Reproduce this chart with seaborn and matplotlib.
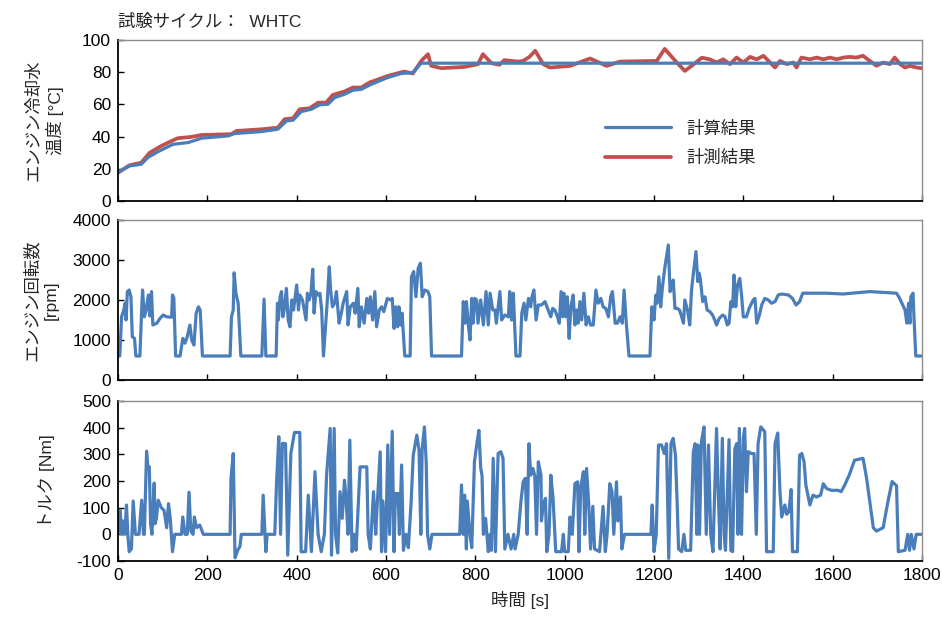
import numpy as np
import pandas as pd
import matplotlib
matplotlib.use("Agg")
import matplotlib.pyplot as plt
import seaborn as sns

# ---------------- data ----------------
title_text = "試験サイクル：  WHTC"
legend_labels = ["計算結果", "計測結果"]

temp_calc_t = [0, 11, 26, 52, 67, 90, 123, 157, 187, 246, 261, 321, 358, 377, 392, 410,
               433, 451, 470, 485, 507, 526, 545, 567, 604, 634, 660, 679, 1800]
temp_calc_v = [17.6, 19.7, 21.8, 22.8, 27.0, 30.7, 35.2, 36.3, 39.0, 40.4, 41.9, 43.1, 44.6,
               49.7, 50.2, 55.5, 57.0, 59.7, 60.1, 64.2, 66.3, 68.8, 69.4, 72.5, 76.7, 79.2,
               79.8, 85.6, 85.6]

temp_meas_t = [0, 26, 52, 71, 97, 123, 134, 164, 187, 254, 265, 325, 358, 373, 392, 407,
               429, 448, 466, 481, 507, 526, 545, 563, 604, 641, 660, 679, 694, 701, 724,
               776, 806, 817, 836, 854, 865, 895, 907, 921, 934, 952, 967, 1012, 1057, 1094,
               1124, 1206, 1224, 1251, 1269, 1284, 1307, 1325, 1340, 1355, 1370, 1385, 1400,
               1415, 1430, 1445, 1460, 1471, 1482, 1497, 1512, 1519, 1530, 1549, 1564, 1579,
               1594, 1609, 1624, 1638, 1653, 1668, 1683, 1698, 1713, 1728, 1739, 1751, 1762,
               1773, 1788, 1800]
temp_meas_v = [17.6, 22.2, 23.8, 30.0, 34.2, 37.7, 39.0, 39.8, 41.0, 41.5, 43.5, 44.6, 45.6,
               50.8, 51.4, 57.0, 57.6, 61.1, 61.1, 65.9, 68.0, 70.5, 70.5, 73.6, 77.7, 80.4,
               79.2, 87.0, 91.2, 84.0, 82.5, 83.3, 85.0, 91.2, 85.6, 84.6, 87.5, 86.6, 87.0,
               89.5, 93.3, 85.0, 82.9, 83.9, 88.5, 83.9, 86.6, 87.0, 94.5, 86.0, 80.8, 83.9,
               89.0, 88.0, 86.0, 88.0, 85.0, 89.1, 86.0, 89.5, 88.0, 90.2, 86.0, 82.9, 87.0,
               85.0, 86.0, 82.9, 89.1, 88.0, 89.1, 88.0, 89.1, 88.0, 89.1, 89.5, 89.1, 90.2,
               87.0, 84.0, 86.0, 85.0, 89.1, 85.0, 82.9, 83.9, 82.9, 82.5]

rpm_t = [0, 4, 8, 13, 16, 18, 21, 25, 29, 32, 37, 40, 49, 53, 55, 59, 63, 68, 71, 75, 78, 87,
         94, 101, 109, 120, 122, 125, 129, 139, 145, 150, 155, 161, 165, 170, 175, 180, 184,
         189, 251, 254, 258, 260, 264, 269, 275, 322, 327, 331, 354, 357, 359, 363, 366, 369,
         372, 377, 381, 385, 389, 393, 400, 404, 407, 413, 417, 421, 424, 428, 432, 436, 439,
         443, 448, 452, 456, 460, 463, 468, 473, 476, 480, 485, 489, 495, 500, 504, 512, 515,
         520, 527, 531, 537, 540, 545, 551, 557, 561, 565, 570, 575, 579, 585, 590, 595, 603,
         610, 614, 618, 622, 626, 629, 633, 636, 642, 654, 657, 662, 667, 672, 677, 681, 687,
         694, 698, 702, 769, 773, 777, 780, 784, 788, 792, 795, 799, 803, 806, 812, 818, 824,
         829, 833, 839, 844, 847, 855, 859, 866, 874, 877, 881, 885, 891, 900, 904, 909, 913,
         919, 924, 926, 931, 936, 941, 948, 956, 963, 969, 973, 978, 984, 988, 992, 996, 998,
         1003, 1006, 1010, 1014, 1019, 1023, 1027, 1030, 1034, 1038, 1043, 1048, 1053, 1058,
         1064, 1070, 1075, 1081, 1086, 1092, 1098, 1103, 1107, 1113, 1118, 1124, 1129, 1133,
         1138, 1144, 1191, 1195, 1200, 1204, 1207, 1211, 1215, 1219, 1224, 1232, 1236, 1240,
         1243, 1247, 1252, 1257, 1262, 1266, 1269, 1275, 1280, 1284, 1289, 1294, 1298, 1301,
         1304, 1309, 1314, 1319, 1325, 1331, 1336, 1340, 1346, 1354, 1359, 1364, 1368, 1372,
         1376, 1379, 1383, 1387, 1392, 1396, 1400, 1407, 1413, 1422, 1426, 1430, 1436, 1441,
         1448, 1456, 1463, 1471, 1478, 1486, 1501, 1510, 1518, 1526, 1533, 1586, 1623, 1683,
         1743, 1750, 1762, 1766, 1770, 1773, 1775, 1780, 1782, 1786, 1800]
rpm_v = [600, 600, 1580, 1750, 1920, 1500, 2210, 2250, 2080, 1080, 1040, 600, 600, 1750, 2250,
         1580, 1750, 2125, 1600, 2210, 1375, 1420, 1540, 1625, 1580, 1570, 2125, 2050, 600, 600,
         1040, 920, 1080, 1375, 1000, 875, 1670, 1830, 1750, 600, 600, 1580, 1750, 2680, 2170,
         1920, 600, 600, 2020, 600, 600, 1920, 1500, 2080, 2210, 1580, 1750, 2290, 1500, 1330,
         2000, 1750, 2375, 1750, 2125, 2000, 1750, 1500, 2170, 2000, 2170, 2770, 1670, 2210,
         2125, 2170, 1750, 600, 1080, 1875, 2830, 2250, 1830, 1920, 2210, 1420, 1670, 1920,
         2210, 1375, 1830, 1920, 1670, 2290, 1330, 1830, 1420, 2040, 1670, 2080, 1500, 2210,
         1330, 1750, 1830, 1710, 2040, 2000, 2040, 1290, 1830, 1330, 1830, 1375, 1670, 600,
         600, 2580, 2710, 2080, 2790, 2920, 2080, 2250, 2210, 2080, 600, 600, 1960, 1420, 1960,
         1420, 1000, 2040, 1420, 2040, 2000, 1420, 2000, 1375, 2210, 1375, 2170, 1750, 1750,
         1420, 2210, 1500, 1625, 1580, 2210, 1500, 2170, 600, 600, 1670, 1920, 1500, 2040,
         1830, 2040, 2250, 1500, 1875, 1875, 1960, 1750, 1580, 1790, 1750, 1580, 1420, 2210,
         1580, 2170, 1580, 2080, 1040, 1830, 2125, 1375, 1750, 1420, 1960, 1500, 2170, 1375,
         1580, 1375, 1375, 2250, 1920, 2040, 1830, 1790, 1580, 2080, 2210, 1420, 1420, 1580,
         1420, 2250, 1420, 600, 600, 1830, 1500, 2125, 1920, 2580, 1830, 2330, 2790, 3375,
         2210, 2420, 2500, 1790, 1790, 1750, 1580, 1420, 2000, 1750, 1375, 2250, 2750, 3210,
         2460, 2670, 2500, 1960, 2080, 1750, 1710, 1625, 1500, 1375, 1540, 1625, 1580, 1375,
         1420, 1960, 1830, 2625, 1830, 2370, 2540, 2125, 1580, 1580, 1790, 2000, 2040, 1420,
         1625, 1875, 2040, 2000, 1920, 1960, 2125, 2150, 2125, 2040, 1875, 1960, 2170, 2170,
         2150, 2210, 2170, 2040, 1750, 1420, 1920, 1420, 2080, 2170, 1580, 600, 600]

torque_t = [0, 5, 8, 11, 15, 19, 22, 25, 30, 34, 39, 47, 53, 57, 59, 64, 67, 70, 73, 76, 81,
            83, 86, 90, 97, 103, 109, 113, 117, 122, 127, 142, 145, 150, 155, 159, 163, 168,
            171, 176, 183, 191, 251, 253, 258, 262, 268, 273, 276, 322, 325, 331, 334, 351,
            355, 360, 364, 368, 375, 380, 387, 395, 407, 410, 420, 426, 433, 441, 448, 455,
            462, 467, 475, 478, 484, 487, 492, 497, 502, 507, 510, 515, 519, 524, 529, 533,
            542, 557, 560, 565, 572, 577, 580, 587, 590, 593, 599, 604, 608, 614, 618, 621,
            627, 630, 635, 639, 645, 650, 656, 661, 669, 674, 678, 681, 686, 690, 693, 698,
            703, 765, 769, 773, 776, 780, 782, 788, 792, 798, 803, 808, 812, 815, 818, 823,
            829, 833, 836, 840, 845, 851, 857, 862, 866, 873, 880, 886, 889, 896, 902, 907,
            912, 916, 920, 924, 929, 933, 937, 941, 947, 948, 952, 957, 960, 965, 969, 974,
            980, 993, 997, 1000, 1008, 1012, 1017, 1023, 1029, 1032, 1036, 1042, 1045, 1049,
            1054, 1058, 1063, 1067, 1078, 1086, 1091, 1095, 1101, 1106, 1110, 1116, 1119,
            1125, 1128, 1134, 1193, 1196, 1200, 1205, 1210, 1217, 1223, 1228, 1233, 1238,
            1243, 1248, 1252, 1255, 1262, 1267, 1271, 1282, 1288, 1292, 1296, 1298, 1302,
            1306, 1312, 1317, 1322, 1327, 1332, 1340, 1344, 1348, 1353, 1357, 1360, 1368,
            1372, 1376, 1381, 1385, 1388, 1391, 1396, 1400, 1403, 1407, 1411, 1418, 1424,
            1429, 1433, 1439, 1448, 1452, 1467, 1471, 1477, 1482, 1486, 1493, 1497, 1502,
            1507, 1510, 1521, 1526, 1531, 1536, 1540, 1549, 1556, 1564, 1573, 1579, 1586,
            1597, 1612, 1619, 1627, 1637, 1649, 1668, 1676, 1684, 1691, 1698, 1713, 1724,
            1733, 1743, 1747, 1762, 1768, 1772, 1776, 1782, 1787, 1800]
torque_v = [0, 90, 0, 50, 0, 110, 0, -65, -55, 125, 0, 0, 128, 0, 0, 312, 250, 253, 40, 0, 192,
            40, 60, 128, 100, 90, 25, 115, 60, -65, 0, 0, 65, 0, 0, 158, 12, 0, 65, 25, 35, 0,
            0, 210, 303, -88, -60, -45, 0, 0, 147, -65, 0, 0, 197, 366, 0, 341, 340, -78, 303,
            382, 382, -65, -65, 147, -65, 235, 0, -65, 0, 222, 397, -78, 397, 0, -70, 160, 60,
            203, 147, 0, 353, -65, 0, -60, 253, 253, 0, -55, 160, 0, 100, 309, -65, 125, -65,
            335, 0, 386, -65, 153, 153, 0, 260, -60, 0, -50, 113, 297, 372, 315, 0, 320, 403,
            270, 0, -55, 0, 0, 185, 0, 147, -55, 125, 0, -50, 272, 335, 390, 250, 220, 0, 60,
            -65, 0, -60, 285, -65, 303, 310, 285, -55, 0, -55, 0, -55, 0, 122, 197, 210, 0,
            340, 222, 247, 220, 0, 272, 222, 50, 110, 135, -65, 0, 222, 135, -65, -65, 0, -65,
            -65, 65, 0, 190, 197, -65, 178, 235, 0, 247, 110, -55, 105, -55, -65, 105, -65, 0,
            190, 160, 0, 197, 50, 140, -55, 0, 0, 110, -65, 0, 335, 335, 303, 340, -90, 340,
            360, 297, 110, -55, -65, 0, -60, -60, 310, 340, 0, 335, 0, 345, 403, 0, 335, 0,
            -65, 397, 150, -55, 360, 0, -60, 355, -60, -65, 320, 340, 0, 397, 0, 360, 397, 160,
            310, 303, 303, 0, 340, 403, 385, -65, -65, 340, 380, 160, 65, 110, 75, 85, 168,
            -65, -65, 297, 303, 272, 185, 110, 147, 140, 147, 190, 172, 165, 165, 160, 185,
            222, 278, 285, 210, 110, 25, 12, 25, 125, 198, 182, -65, -60, 0, -60, 0, -55, 0, 0]

x_ticks = list(range(0, 1801, 200))
temp_ticks = list(range(0, 101, 20))
rpm_ticks = list(range(0, 4001, 1000))
torque_ticks = list(range(-100, 501, 100))

# ---------------- styling ----------------
sns.set_theme(style="white")
plt.rcParams["font.family"] = ["Liberation Sans", "Noto Sans CJK JP", "DejaVu Sans"]
plt.rcParams["axes.unicode_minus"] = False

BLUE = "#4a7ebb"
RED = "#c0504d"
FS = 12.5

fig = plt.figure(figsize=(9.42, 6.19), dpi=100)
W, H = 942, 619
def box(l, t, r, b):
    return [l / W, 1 - b / H, (r - l) / W, (b - t) / H]

ax1 = fig.add_axes(box(118, 40, 922, 201))
ax2 = fig.add_axes(box(118, 220, 922, 380))
ax3 = fig.add_axes(box(118, 401, 922, 561))

df_calc = pd.DataFrame({"t": temp_calc_t, "v": temp_calc_v})
df_meas = pd.DataFrame({"t": temp_meas_t, "v": temp_meas_v})
df_rpm = pd.DataFrame({"t": rpm_t, "v": rpm_v})
df_trq = pd.DataFrame({"t": torque_t, "v": torque_v})

lw = 2.3
sns.lineplot(data=df_meas, x="t", y="v", ax=ax1, color=RED, lw=lw + 0.4,
             estimator=None, sort=False, label=legend_labels[1])
sns.lineplot(data=df_calc, x="t", y="v", ax=ax1, color=BLUE, lw=lw,
             estimator=None, sort=False, label=legend_labels[0])
sns.lineplot(data=df_rpm, x="t", y="v", ax=ax2, color=BLUE, lw=lw,
             estimator=None, sort=False)
sns.lineplot(data=df_trq, x="t", y="v", ax=ax3, color=BLUE, lw=lw,
             estimator=None, sort=False)

for ax, ticks in ((ax1, temp_ticks), (ax2, rpm_ticks), (ax3, torque_ticks)):
    ax.set_xlim(0, 1800)
    ax.set_ylim(ticks[0], ticks[-1])
    ax.set_xticks(x_ticks)
    ax.set_yticks(ticks)
    ax.tick_params(direction="in", length=4, width=1, labelsize=FS,
                   bottom=True, left=True, top=False, right=False, pad=5, colors="black")
    for s in ("left", "bottom"):
        ax.spines[s].set_color("black")
        ax.spines[s].set_linewidth(1.3)
    for s in ("top", "right"):
        ax.spines[s].set_color("#8c8c8c")
        ax.spines[s].set_linewidth(1.0)
    ax.set_xlabel("")

ax1.tick_params(axis="x", labelbottom=False)
ax2.tick_params(axis="x", labelbottom=False)

ax1.set_ylabel("エンジン冷却水\n温度 [°C]", fontsize=FS, linespacing=1.3)
ax2.set_ylabel("エンジン回転数\n[rpm]", fontsize=FS, linespacing=1.3)
ax3.set_ylabel("トルク [Nm]", fontsize=FS)
ax1.yaxis.set_label_coords(-0.067, 0.5)
ax2.yaxis.set_label_coords(-0.074, 0.5)
ax3.yaxis.set_label_coords(-0.078, 0.5)
ax3.set_xlabel("時間 [s]", fontsize=FS, labelpad=6)

ax1.text(0.0, 1.06, title_text, transform=ax1.transAxes, fontsize=FS,
         ha="left", va="bottom")

h, l = ax1.get_legend_handles_labels()
ax1.legend([h[1], h[0]], [l[1], l[0]], loc="center", bbox_to_anchor=(0.70, 0.36),
           frameon=False, fontsize=FS, handlelength=3.8, labelspacing=0.75,
           handletextpad=0.9)

fig.savefig("out.png", dpi=100)
